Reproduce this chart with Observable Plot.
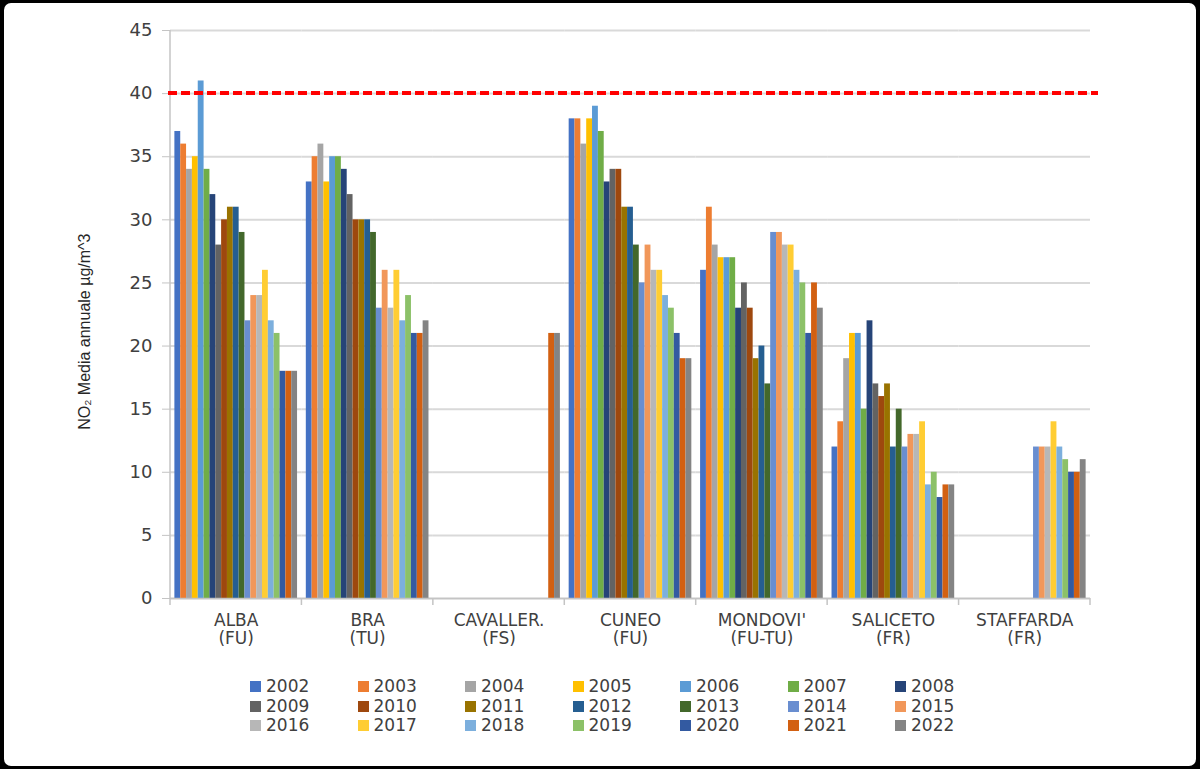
<!DOCTYPE html>
<html>
<head>
<meta charset="utf-8">
<script src="https://cdn.jsdelivr.net/npm/d3@7"></script>
<script src="https://cdn.jsdelivr.net/npm/@observablehq/plot@0.6"></script>
<style>
  html, body { margin: 0; padding: 0; background: #000; }
  #wrap { position: relative; width: 1200px; height: 769px; background: #000; overflow: hidden; }
  #inner { position: absolute; left: 4px; top: 3px; right: 4px; bottom: 3px; background: #fff; border-radius: 7px; }
  #chart { position: absolute; left: 0; top: 0; }
  #legend { position: absolute; left: 250px; top: 677px; display: grid; grid-template-columns: repeat(7, 107.5px); grid-auto-rows: 19.5px;
            font-family: "DejaVu Sans", sans-serif; font-size: 17px; color: #404040; }
  .item { display: flex; align-items: center; white-space: nowrap; line-height: 19.5px; }
  .sw { width: 11px; height: 11px; margin-right: 5px; flex: none; }
</style>
</head>
<body>
<div id="wrap">
  <div id="inner"></div>
  <div id="chart"></div>
  <div id="legend"></div>
</div>
<script>
// ---- data ----
const years = ["2002","2003","2004","2005","2006","2007","2008","2009","2010","2011","2012",
               "2013","2014","2015","2016","2017","2018","2019","2020","2021","2022"];
const stations = ["ALBA","BRA","CAVALLER.","CUNEO","MONDOVI'","SALICETO","STAFFARDA"];
const zones = ["(FU)","(TU)","(FS)","(FU)","(FU-TU)","(FR)","(FR)"];
const alba      = [37,36,34,35,41,34,32,28,30,31,31,29,22,24,24,26,22,21,18,18,18];
const bra       = [33,35,36,33,35,35,34,32,30,30,30,29,23,26,23,26,22,24,21,21,22];
const cavaller  = [null,null,null,null,null,null,null,null,null,null,null,null,null,null,null,null,null,null,null,21,21];
const cuneo     = [38,38,36,38,39,37,33,34,34,31,31,28,25,28,26,26,24,23,21,19,19];
const mondovi   = [26,31,28,27,27,27,23,25,23,19,20,17,29,29,28,28,26,25,21,25,23];
const saliceto  = [12,14,19,21,21,15,22,17,16,17,12,15,12,13,13,14,9,10,8,9,9];
const staffarda = [null,null,null,null,null,null,null,null,null,null,null,null,12,12,12,14,12,11,10,10,11];
const series = [alba, bra, cavaller, cuneo, mondovi, saliceto, staffarda];
const yTicks = [0,5,10,15,20,25,30,35,40,45];
const limitValue = [40];
const yLabel = "NO\u2082 Media annuale \u00b5g/m^3";
const colors = ["#4472C4","#ED7D31","#A5A5A5","#FFC000","#5B9BD5","#70AD47","#264478",
                "#636363","#9E480E","#997300","#255E91","#43682B","#698ED0","#F1975A",
                "#B7B7B7","#FFCD33","#7CAFDD","#8CC168","#335AA1","#D26012","#848484"];

const data = [];
stations.forEach((s, i) => years.forEach((yr, j) => {
  const v = series[i][j];
  if (v != null) data.push({station: s, year: yr, value: v});
}));
const labelOf = Object.fromEntries(stations.map((s, i) => [s, s + "\n" + zones[i]]));

const plot = Plot.plot({
  width: 1200, height: 669,
  marginTop: 30, marginBottom: 71, marginLeft: 170, marginRight: 110,
  style: {fontFamily: "'DejaVu Sans', sans-serif", fontSize: "17px", color: "#404040", background: "transparent", overflow: "visible"},
  fx: {domain: stations, padding: 0, round: false, label: null},
  x: {domain: years, paddingInner: 0, paddingOuter: 0.75, round: false, axis: null},
  y: {domain: [0, 45], label: null},
  color: {domain: years, range: colors},
  marks: [
    Plot.gridY(yTicks, {stroke: "#d9d9d9", strokeOpacity: 1, strokeWidth: 2}),
    Plot.barY(data, {fx: "station", x: "year", y: "value", fill: "year"}),
    Plot.ruleY([0], {stroke: "#c4c4c4", strokeWidth: 1.5}),
    Plot.axisY(yTicks, {anchor: "left", tickSize: 8, tickPadding: 10, stroke: "#c4c4c4", fill: "#404040", fontSize: 18, label: null}),
    Plot.axisFx({anchor: "bottom", tickSize: 0, tickPadding: 14, tickFormat: d => labelOf[d], lineHeight: 1.1, fontSize: 17, fill: "#404040", label: null})
  ]
});
document.getElementById("chart").appendChild(plot);

// extra axis decorations drawn through the library's scales
const svg = d3.select(plot);
const fxS = plot.scale("fx"), yS = plot.scale("y");
const x0 = fxS.range[0], x1 = fxS.range[1];
const yBase = yS.apply(0), yTop = yS.apply(45);
const deco = svg.append("g");
deco.append("line").attr("x1", x0).attr("x2", x0).attr("y1", yTop).attr("y2", yBase)
  .attr("stroke", "#c4c4c4").attr("stroke-width", 1.5);
stations.map(s => fxS.apply(s)).concat([x1]).forEach(x => {
  deco.append("line").attr("x1", x).attr("x2", x).attr("y1", yBase).attr("y2", yBase + 7)
    .attr("stroke", "#c4c4c4").attr("stroke-width", 1.5);
});
limitValue.forEach(v => {
  const yy = yS.apply(v);
  deco.append("line").attr("x1", x0 - 2).attr("x2", x1 + 8).attr("y1", yy).attr("y2", yy)
    .attr("stroke", "#ff0000").attr("stroke-width", 4).attr("stroke-dasharray", "9,4");
});
deco.append("text")
  .attr("transform", `translate(86,${(yS.apply(13.4) + yS.apply(28.8)) / 2}) rotate(-90)`)
  .attr("text-anchor", "middle").attr("dominant-baseline", "middle")
  .attr("font-family", "'Liberation Sans', Arial, sans-serif").attr("font-size", 16)
  .attr("fill", "#262626").text(yLabel);

// legend
const leg = document.getElementById("legend");
years.forEach((yr, i) => {
  const it = document.createElement("div"); it.className = "item";
  const sw = document.createElement("span"); sw.className = "sw"; sw.style.background = colors[i];
  const tx = document.createElement("span"); tx.textContent = yr;
  it.appendChild(sw); it.appendChild(tx); leg.appendChild(it);
});
</script>
</body>
</html>
